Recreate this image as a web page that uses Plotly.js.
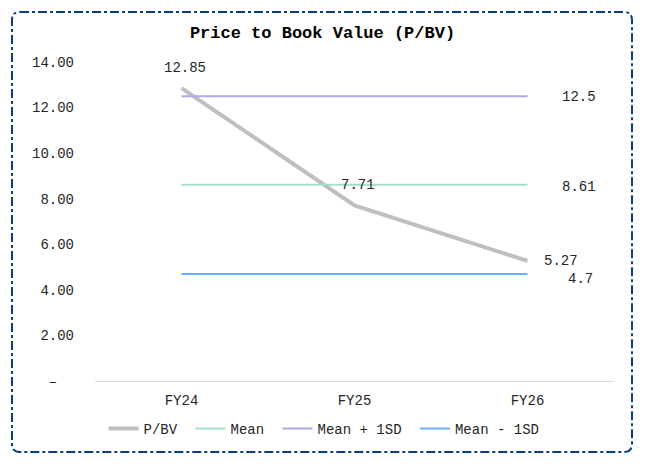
<!DOCTYPE html>
<html>
<head>
<meta charset="utf-8">
<script src="https://cdn.plot.ly/plotly-3.0.1.min.js"></script>
<style>
  html, body { margin: 0; padding: 0; background: #fff; }
  #graph { width: 645px; height: 468px; }
</style>
</head>
<body>
<div id="graph"></div>
<script>
// Values
const years = ['FY24', 'FY25', 'FY26'];
const pbv = [12.85, 7.71, 5.27];
const mean = [8.61, 8.61, 8.61];
const meanPlus = [12.5, 12.5, 12.5];
const meanMinus = [4.7, 4.7, 4.7];
const tickVals = [0, 2, 4, 6, 8, 10, 12, 14];
const tickText = ['–\u00a0\u00a0', '2.00', '4.00', '6.00', '8.00', '10.00', '12.00', '14.00'];

const FONT = '"Liberation Mono", "Courier New", monospace';
const last = years.length - 1;
const SP = '\u00a0'; // a bit of extra room between legend entries

const traces = [
    { x: years, y: pbv, name: 'P/BV' + SP, mode: 'lines', line: { color: '#BFBFBF', width: 4 } },
    { x: years, y: mean, name: 'Mean' + SP, mode: 'lines', line: { color: '#A5DFCA', width: 2 } },
    { x: years, y: meanPlus, name: 'Mean + 1SD' + SP, mode: 'lines', line: { color: '#B4A7E8', width: 2 } },
    { x: years, y: meanMinus, name: 'Mean - 1SD', mode: 'lines', line: { color: '#6AAEF8', width: 2 } }
];

// data labels: P/BV above (last one to the right), bands to the right of their end
const annotations = [];
pbv.forEach((v, i) => {
    const isLast = i === last;
    annotations.push({
        x: years[i], y: v, text: v.toFixed(2), showarrow: false,
        xanchor: isLast ? 'left' : 'center', yanchor: 'middle',
        xshift: isLast ? 14 : 3, yshift: isLast ? 0 : 20
    });
});
[[meanPlus, -1], [mean, -2], [meanMinus, -5]].forEach(([arr, ys]) => {
    annotations.push({
        x: years[last], y: arr[last], text: String(arr[last]), showarrow: false,
        xanchor: 'left', yanchor: 'middle', xshift: arr === meanMinus ? 38 : 32, yshift: ys
    });
});

// dash-dot rounded frame, in paper units (plot area 519 x 319 px)
const px = v => (v - 95) / 519, py = v => (381 - v) / 319;
const rx = 8 / 519, ry = 8 / 319;
const L = px(12), R = px(632), T = py(12), B = py(452);
const framePath = `M ${L + rx} ${T} L ${R - rx} ${T} Q ${R} ${T} ${R} ${T - ry} ` +
    `L ${R} ${B + ry} Q ${R} ${B} ${R - rx} ${B} L ${L + rx} ${B} Q ${L} ${B} ${L} ${B + ry} ` +
    `L ${L} ${T - ry} Q ${L} ${T} ${L + rx} ${T} Z`;

const layout = {
    width: 645, height: 468,
    margin: { l: 95, r: 31, t: 62, b: 87 },
    paper_bgcolor: '#fff', plot_bgcolor: '#fff',
    font: { family: FONT, size: 14, color: '#262626' },
    title: {
        text: '<b>Price to Book Value (P/BV)</b>',
        font: { family: FONT, size: 17, color: '#000' },
        x: 0.5, xanchor: 'center', y: 1 - 32 / 468, yanchor: 'middle', yref: 'container'
    },
    xaxis: {
        type: 'category', range: [-0.5, 2.5],
        showgrid: false, zeroline: false,
        showline: true, linecolor: '#D9D9D9', linewidth: 1,
        ticks: '', ticklabelstandoff: 6,
        tickfont: { family: FONT, size: 14, color: '#262626' }
    },
    yaxis: {
        range: [0, 14], showgrid: false, zeroline: false, showline: false,
        tickvals: tickVals, ticktext: tickText, ticks: '',
        ticklabelstandoff: 20,
        tickfont: { family: FONT, size: 14, color: '#262626' }
    },
    legend: {
        orientation: 'h', x: px(324), xanchor: 'center', y: py(429), yanchor: 'middle',
        itemwidth: 30, font: { family: FONT, size: 14, color: '#262626' }
    },
    annotations: annotations,
    shapes: [{
        type: 'path', xref: 'paper', yref: 'paper', path: framePath,
        line: { color: '#0B3E7E', width: 2, dash: 'dashdot' }
    }],
    showlegend: true
};

Plotly.newPlot('graph', traces, layout, { displayModeBar: false, staticPlot: true });
</script>
</body>
</html>
